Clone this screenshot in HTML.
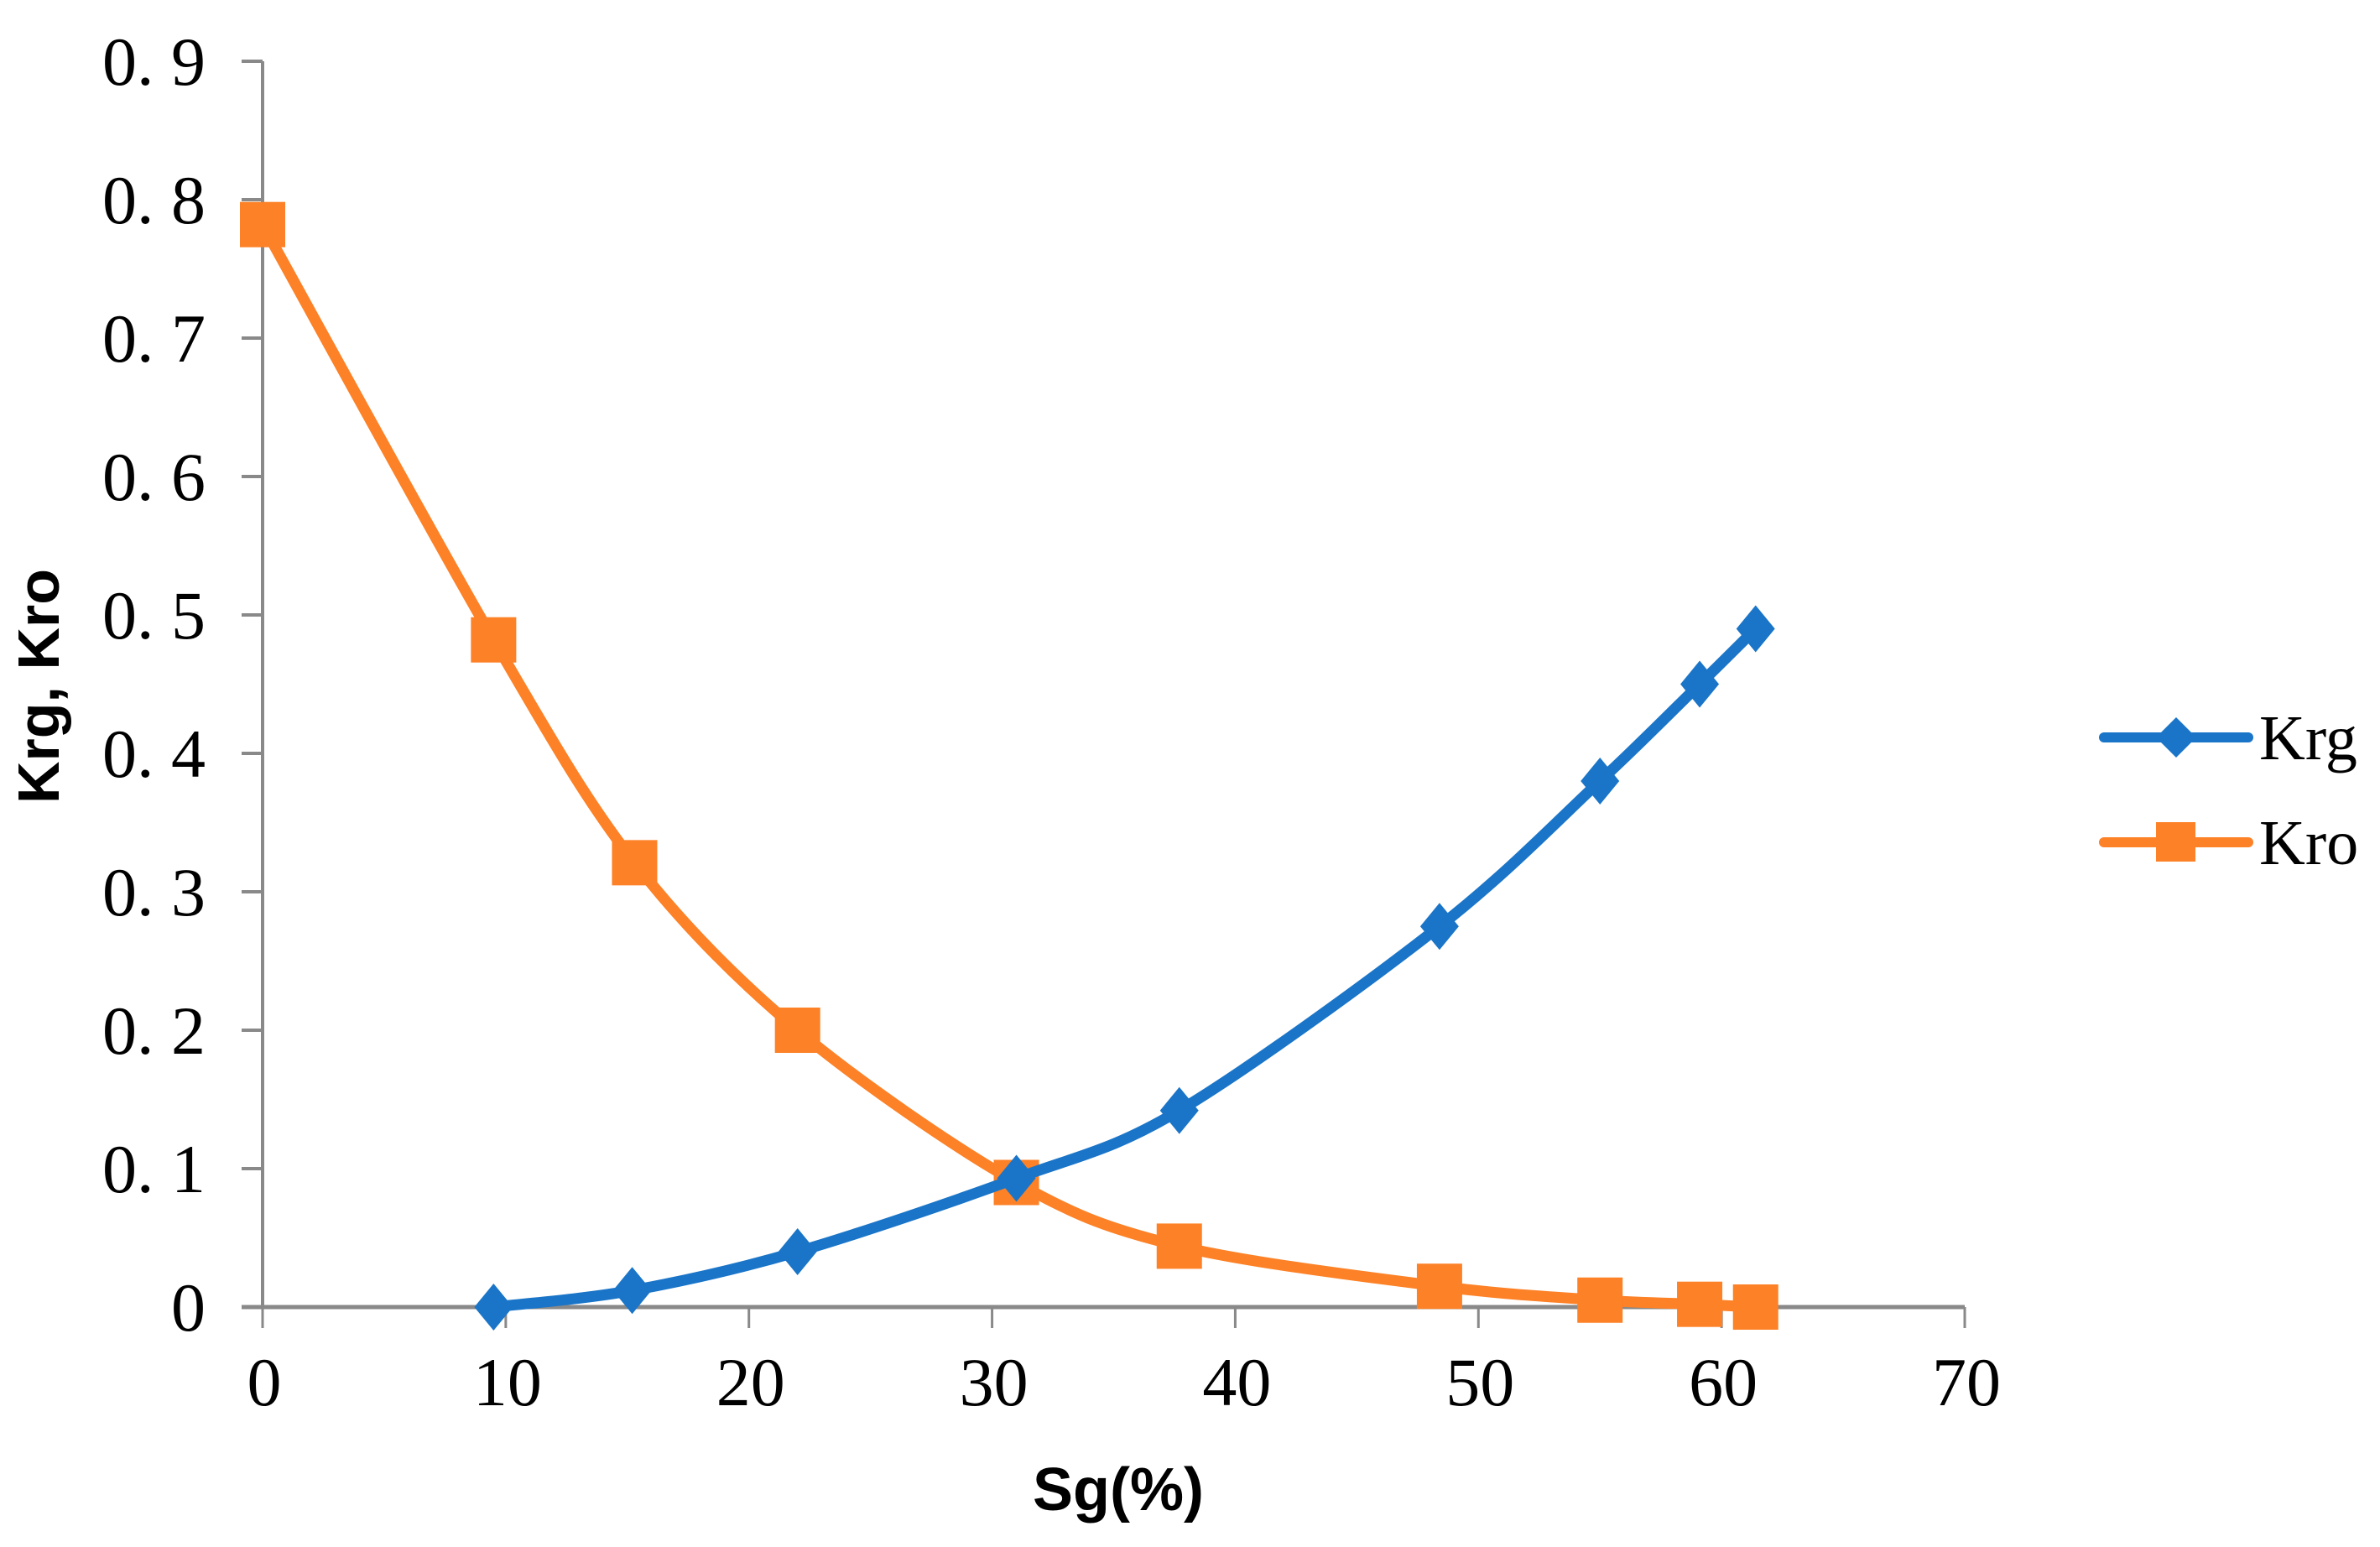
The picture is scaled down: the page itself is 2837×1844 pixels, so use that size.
<!DOCTYPE html>
<html><head><meta charset="utf-8"><style>
html,body{margin:0;padding:0;background:#fff;}
svg{display:block;}
</style></head><body>
<svg id="chart" width="2837" height="1844" viewBox="0 0 2837 1844" xmlns="http://www.w3.org/2000/svg">
<rect width="2837" height="1844" fill="#fff"/>
<g id="axes"></g>
<g id="series"></g>
<text transform="translate(70,818) rotate(-90)" text-anchor="middle" font-family="Liberation Sans, sans-serif" font-weight="bold" font-size="70">Krg,   Kro</text>
<text x="1333" y="1800" text-anchor="middle" font-family="Liberation Sans, sans-serif" font-weight="bold" font-size="72">Sg(%)</text>
<g>
  <g>
    <line x1="2508" y1="879" x2="2680" y2="879" stroke="#1a75c8" stroke-width="12" stroke-linecap="round"/>
    <polygon points="2594,855 2618,879 2594,903 2570,879" fill="#1a75c8"/>
    <text x="2693" y="905" font-family="Liberation Serif, serif" font-size="76">Krg</text>
  </g>
  <g>
    <line x1="2508" y1="1004" x2="2680" y2="1004" stroke="#fd8126" stroke-width="12" stroke-linecap="round"/>
    <rect x="2570" y="980" width="47" height="47" fill="#fd8126"/>
    <text x="2693" y="1030" font-family="Liberation Serif, serif" font-size="76">Kro</text>
  </g>
</g>
</svg>
<script>
const xTicks = [0,10,20,30,40,50,60,70];
const yTicks = [0,0.1,0.2,0.3,0.4,0.5,0.6,0.7,0.8,0.9];
const yTickLabels = ["0","0. 1","0. 2","0. 3","0. 4","0. 5","0. 6","0. 7","0. 8","0. 9"];
const krgX = [9.5,15.2,22,31,37.7,48.4,55,59.1,61.4];
const krgY = [0,0.012,0.04,0.093,0.142,0.275,0.38,0.45,0.49];
const kroX = [0,9.5,15.3,22,31,37.7,48.4,55,59.1,61.4];
const kroY = [0.782,0.482,0.321,0.2,0.09,0.044,0.015,0.005,0.002,0];

const NS="http://www.w3.org/2000/svg";
const X0=313,X1=2342,Y0=1558,Y1=73;
function sx(v){return X0+(v-0)/(70-0)*(X1-X0);}
function sy(v){return Y0-(v-0)/(0.9-0)*(Y0-Y1);}
function mk(tag,attrs,parent){const e=document.createElementNS(NS,tag);for(const k in attrs)e.setAttribute(k,attrs[k]);parent.appendChild(e);return e;}
const axes=document.getElementById('axes');
const ax=mk('line',{x1:X0,y1:Y1,x2:X0,y2:Y0,stroke:'#898989','stroke-width':4},axes);


const bx=mk('line',{x1:X0-25,y1:Y0,x2:X1,y2:Y0,stroke:'#898989','stroke-width':5},axes);


yTicks.forEach((v,i)=>{
  const t=mk('line',{x1:X0-25,y1:sy(v),x2:X0,y2:sy(v),stroke:'#898989','stroke-width':4},axes);
  
  
  const l=mk('text',{x:245,y:sy(v)+28,'text-anchor':'end','font-family':'Liberation Serif, serif','font-size':82},axes);
  l.textContent=yTickLabels[i];
  
  
});
xTicks.forEach(v=>{
  const t=mk('line',{x1:sx(v),y1:Y0,x2:sx(v),y2:Y0+25,stroke:'#898989','stroke-width':3},axes);
  
  
  const l=mk('text',{x:sx(v)+2,y:1675,'text-anchor':'middle','font-family':'Liberation Serif, serif','font-size':82},axes);
  l.textContent=String(v);
  
  
});
function smooth(xs,ys){
  const p=xs.map((x,i)=>[sx(x),sy(ys[i])]);
  let d='M'+p[0][0]+','+p[0][1];
  for(let i=0;i<p.length-1;i++){
    const a=p[Math.max(0,i-1)],b=p[i],c=p[i+1],e=p[Math.min(p.length-1,i+2)];
    const t=0.16;
    const c1=[b[0]+(c[0]-a[0])*t,b[1]+(c[1]-a[1])*t];
    const c2=[c[0]-(e[0]-b[0])*t,c[1]-(e[1]-b[1])*t];
    d+=' C'+c1+' '+c2+' '+c;
  }
  return d;
}
const ser=document.getElementById('series');
const gK=mk('g',{},ser);


const pK=mk('path',{d:smooth(kroX,kroY),fill:'none',stroke:'#fd8126','stroke-width':13,'stroke-linejoin':'round'},gK);


kroX.forEach((x,i)=>{
  const r=mk('rect',{x:sx(x)-27,y:sy(kroY[i])-27,width:54,height:54,fill:'#fd8126'},gK);
  
  
});
const gG=mk('g',{},ser);


const pG=mk('path',{d:smooth(krgX,krgY),fill:'none',stroke:'#1a75c8','stroke-width':13,'stroke-linejoin':'round'},gG);


krgX.forEach((x,i)=>{
  const cx=sx(x),cy=sy(krgY[i]);
  const r=mk('polygon',{points:`${cx},${cy-28} ${cx+23},${cy} ${cx},${cy+28} ${cx-23},${cy}`,fill:'#1a75c8'},gG);
  
  
});
</script>
</body></html>
